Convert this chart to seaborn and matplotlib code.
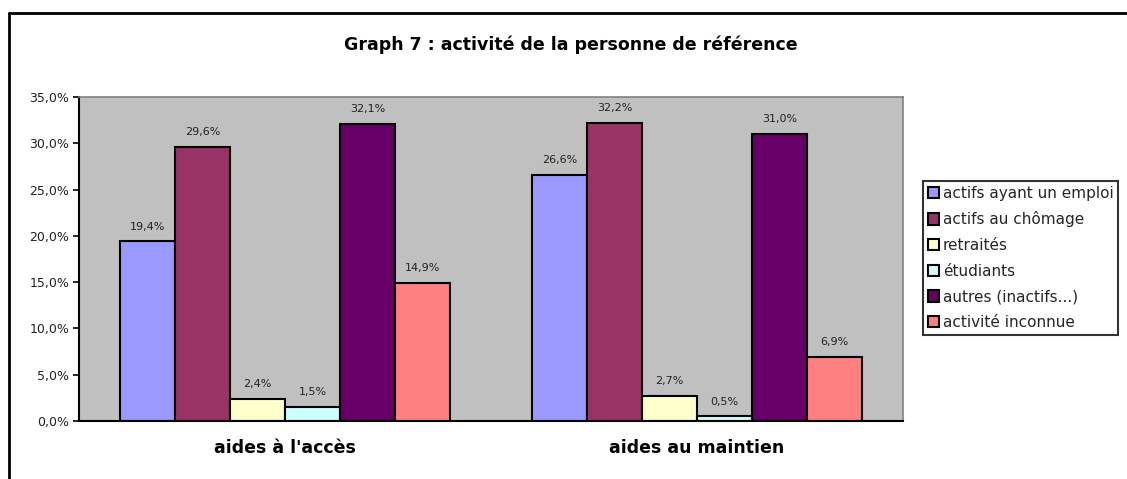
import pandas as pd
import seaborn as sns
import matplotlib.pyplot as plt
from matplotlib.lines import Line2D
from matplotlib.ticker import FixedLocator

aides = ["aides à l'accès", "aides au maintien"]
activites = ["actifs ayant un emploi", "actifs au chômage", "retraités",
             "étudiants", "autres (inactifs...)", "activité inconnue"]
valeurs_acces = [19.4, 29.6, 2.4, 1.5, 32.1, 14.9]
valeurs_maintien = [26.6, 32.2, 2.7, 0.5, 31.0, 6.9]
couleurs = ["#9999FF", "#993366", "#FFFFCC", "#CCFFFF", "#660066", "#FF8080"]
yticks = [0, 5, 10, 15, 20, 25, 30, 35]

data = []
for activite, va, vm in zip(activites, valeurs_acces, valeurs_maintien):
    data.append({"aide": aides[0], "activite": activite, "pct": va})
    data.append({"aide": aides[1], "activite": activite, "pct": vm})
df = pd.DataFrame(data)

sns.set_style("white")
plt.rcParams['font.family'] = ['DejaVu Sans']

fig = plt.figure(figsize=(11.27, 4.79), dpi=100)
ax = fig.add_axes([79 / 1127, 1 - 421 / 479, (903 - 79) / 1127, (421 - 97) / 479])
ax.set_facecolor("#C0C0C0")

sns.barplot(data=df, x="aide", y="pct", hue="activite", hue_order=activites,
            palette=couleurs, saturation=1, edgecolor="black", linewidth=1.5,
            width=0.8, ax=ax)

for cont in ax.containers:
    ax.bar_label(cont, labels=[f"{b.get_height():.1f}%".replace(".", ",") for b in cont],
                 padding=7, fontsize=8, color="#222222")

ax.set_ylim(0, 35)
ax.set_xlim(-0.5, 1.5)
ax.set_yticks(yticks)
ax.set_yticklabels([f"{v:.1f}%".replace(".", ",") for v in yticks], fontsize=9, color="#222222")
ax.set_xticks([0, 1])
ax.set_xticklabels(aides, fontsize=12.5, fontweight="bold", color="black")
ax.tick_params(axis="x", which="major", length=0, pad=13)
ax.xaxis.set_minor_locator(FixedLocator([-0.5, 0.5, 1.5]))
ax.tick_params(axis="x", which="minor", length=5, width=1.2, direction="out", color="black")
ax.tick_params(axis="y", length=4, width=1.2, direction="out", color="black", left=True, pad=3)
ax.set_xlabel("")
ax.set_ylabel("")

for s in ["left", "bottom"]:
    ax.spines[s].set_color("black")
    ax.spines[s].set_linewidth(1.5)
for s in ["top", "right"]:
    ax.spines[s].set_color("#808080")
    ax.spines[s].set_linewidth(1.2)

handles, labels = ax.get_legend_handles_labels()
ax.get_legend().remove()
leg = fig.legend(handles, labels, loc="upper left", bbox_to_anchor=(923 / 1127, 1 - 181 / 479),
                 fontsize=11, frameon=True, fancybox=False, edgecolor="black",
                 handlelength=0.75, handleheight=0.75, handletextpad=0.25,
                 labelspacing=0.7, borderpad=0.3, borderaxespad=0)
leg.get_frame().set_linewidth(1.5)

fig.text(571 / 1127, 1 - 45 / 479, "Graph 7 : activité de la personne de référence",
         ha="center", va="center", fontsize=12.5, fontweight="bold", color="black")

fig.add_artist(Line2D([8.5 / 1127, 8.5 / 1127], [0, 1 - 13 / 479], color="black", lw=2))
fig.add_artist(Line2D([8.5 / 1127, 1], [1 - 13 / 479, 1 - 13 / 479], color="black", lw=2))

plt.savefig("out.png", dpi=100)
